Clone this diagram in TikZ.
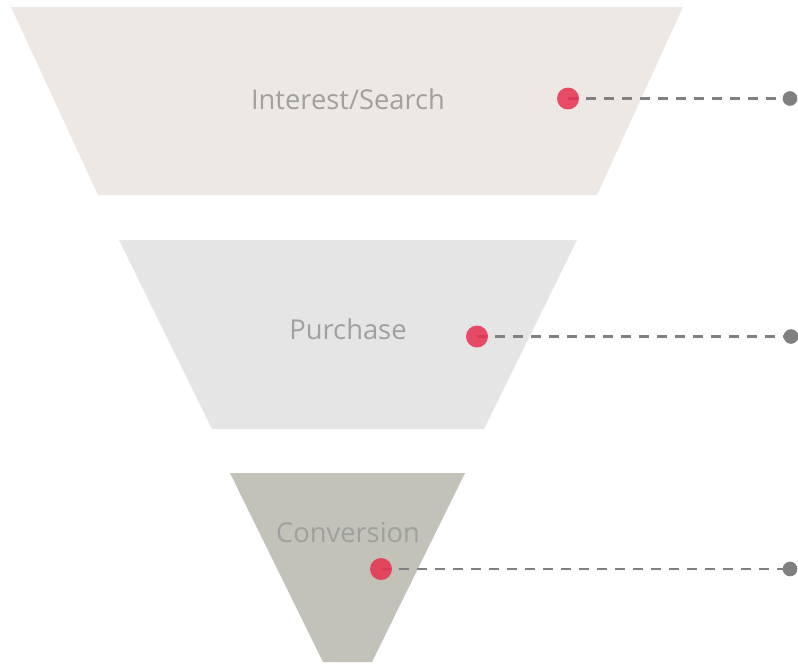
\documentclass[tikz,border=0pt]{standalone}
\usepackage{fontspec}
\setmainfont{Open Sans}
\definecolor{tierA}{HTML}{EEE8E4}
\definecolor{tierB}{HTML}{E5E5E5}
\definecolor{tierC}{HTML}{C2C2B8}
\definecolor{dotred}{HTML}{E8304F}
\definecolor{linegray}{HTML}{808080}
\definecolor{labelgray}{HTML}{A0A0A0}
\tikzset{
  tierlabel/.style={text=labelgray, font=\fontsize{20.5}{24}\selectfont, inner sep=0pt},
  reddot/.style={circle, fill=dotred, opacity=0.85, minimum size=16.5pt, inner sep=0pt},
  enddot/.style={circle, fill=linegray, minimum size=11pt, inner sep=0pt},
  leader/.style={linegray, line width=1.9pt, dash pattern=on 7.5pt off 6pt}
}
\begin{document}
\begin{tikzpicture}[x=0.75pt, y=-0.75pt]
    \useasboundingbox (0,0) rectangle (798,664);

    % Draw the funnel tiers
    \fill[tierA] (11,7) -- (683,7) -- (597,195) -- (98,195) -- cycle;
    \fill[tierB] (119,240) -- (577,240) -- (484,429) -- (212,429) -- cycle;
    \fill[tierC] (230,473) -- (465,473) -- (372,662) -- (323,662) -- cycle;

    % Draw the labels
    \node[tierlabel] (interest) at (348,99) {Interest/Search};
    \node[tierlabel] (purchase) at (348,329) {Purchase};
    \node[tierlabel] (conversion) at (348,533) {Conversion};

    % Draw the end points of the leaders
    \coordinate (r1) at (568,98.5);
    \coordinate (r2) at (477,336.5);
    \coordinate (r3) at (381,569);
    \node[enddot] (g1) at (790,98.5) {};
    \node[enddot] (g2) at (791,336.5) {};
    \node[enddot] (g3) at (790,569) {};

    % Draw the leaders
    \draw[leader] (r1) -- (g1.center);
    \draw[leader] (r2) -- (g2.center);
    \draw[leader] (r3) -- (g3.center);

    % Draw the red dots
    \node[reddot] (d1) at (r1) {};
    \node[reddot] (d2) at (r2) {};
    \node[reddot] (d3) at (r3) {};
\end{tikzpicture}
\end{document}
